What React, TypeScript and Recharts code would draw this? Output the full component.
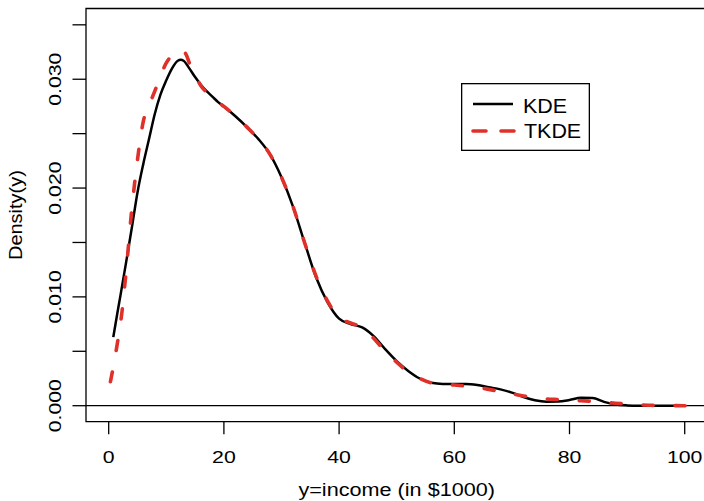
import React from 'react';
import { LineChart, Line, XAxis, YAxis, ReferenceLine, ReferenceArea, Legend } from 'recharts';

const kdeX = [0.8, 1.5, 2, 3, 4, 5, 6, 7, 8, 9, 10, 11, 12, 12.5, 13, 14, 15, 16, 17, 18, 19, 20, 22, 24, 26, 28, 30, 32, 34, 36, 38, 40, 42, 44, 46, 48, 50, 52, 54, 56, 58, 60, 62, 64, 66, 68, 70, 72, 74, 76, 78, 80, 82, 84, 86, 88, 90, 92, 94, 96, 98, 100];
const kdeY = [0.0063, 0.0085, 0.0100, 0.0131, 0.0163, 0.0196, 0.0222, 0.0245, 0.0268, 0.0286, 0.0299, 0.0310, 0.0317, 0.03178, 0.0317, 0.0310, 0.0302, 0.0295, 0.0289, 0.0284, 0.0279, 0.0275, 0.0266, 0.0256, 0.0245, 0.0231, 0.0210, 0.0183, 0.0150, 0.0118, 0.0095, 0.0080, 0.0075, 0.0072, 0.0064, 0.0052, 0.0041, 0.0032, 0.0025, 0.0021, 0.0020, 0.0020, 0.0020, 0.0019, 0.0017, 0.0015, 0.0012, 0.0008, 0.0005, 0.00037, 0.00038, 0.00052, 0.00072, 0.00070, 0.00035, 0.00012, 0.00003, 0, 0, 0, 0, 0];

const tkdeX = [0.3, 1.4, 2.3, 3, 4, 5, 6, 7, 8, 9, 10, 11, 12, 12.8, 13.5, 14, 15, 16, 17, 18, 19, 20, 22, 24, 26, 28, 30, 32, 34, 36, 38, 40, 42, 44, 46, 48, 50, 52, 54, 56, 58, 60, 62, 64, 66, 68, 70, 72, 74, 76, 78, 80, 82, 84, 86, 88, 90, 92, 94, 96, 98, 100, 101];
const tkdeY = [0.0022, 0.0054, 0.0086, 0.0122, 0.0180, 0.0226, 0.0261, 0.0276, 0.0289, 0.0303, 0.0315, 0.0322, 0.0326, 0.0327, 0.0322, 0.0315, 0.0304, 0.0294, 0.0288, 0.0283, 0.0279, 0.0275, 0.0266, 0.0256, 0.0245, 0.0231, 0.0210, 0.0183, 0.0150, 0.0119, 0.0096, 0.0081, 0.0076, 0.0072, 0.0062, 0.0050, 0.0040, 0.0031, 0.0025, 0.0021, 0.0020, 0.0019, 0.0018, 0.0017, 0.0015, 0.0013, 0.0011, 0.0009, 0.0007, 0.00062, 0.00057, 0.00052, 0.00046, 0.00040, 0.00030, 0.00023, 0.00015, 0.00008, 0.00004, 0.00002, 0.00001, 0, 0];

const xTicks = [0, 20, 40, 60, 80, 100];
const yTicks = [0, 0.005, 0.01, 0.015, 0.02, 0.025, 0.03, 0.035];
const yLabeled = [0, 0.01, 0.02, 0.03];
const seriesNames = ['KDE', 'TKDE'];
const xTitle = 'y=income (in $1000)';
const yTitle = 'Density(y)';

const kdeData = kdeX.map((x, i) => ({ x, y: kdeY[i] }));
const tkdeData = tkdeX.map((x, i) => ({ x, y: tkdeY[i] }));

const X_DOMAIN: [number, number] = [-3.94, 103.94];
const Y_DOMAIN: [number, number] = [-0.00147, 0.0365];
const FONT = '"Liberation Sans", Arial, Helvetica, sans-serif';
const RED = '#E0302A';

const XTick = (props: any) => {
  const { x, y, payload } = props;
  return (
    <text transform={`translate(${x}, ${y + 28.5}) scale(1.25, 1)`} x={0} y={0} textAnchor="middle" fontSize={17} fontFamily={FONT} fill="#000">
      {payload.value}
    </text>
  );
};

const YTick = (props: any) => {
  const { y, payload } = props;
  const v = payload.value;
  const show = yLabeled.some((t) => Math.abs(t - v) < 1e-9);
  if (!show) return null;
  const bx = 60.7;
  return (
    <text transform={`translate(${bx}, ${y}) rotate(-90) scale(1.25, 1)`} x={0} y={0} textAnchor="middle" fontSize={17} fontFamily={FONT} fill="#000">
      {v.toFixed(3)}
    </text>
  );
};

const XTitle = (props: any) => {
  const vb = props.viewBox || {};
  const cx = (vb.x ?? 86) + (vb.width ?? 621.4) / 2;
  return (
    <text transform={`translate(${cx}, 496) scale(1.17, 1)`} x={0} y={0} textAnchor="middle" fontSize={18.5} fontFamily={FONT} fill="#000">
      {xTitle}
    </text>
  );
};

const YTitle = (props: any) => {
  const vb = props.viewBox || {};
  const cy = (vb.y ?? 8.5) + (vb.height ?? 413.2) / 2;
  const bx = 21.5;
  return (
    <text transform={`translate(${bx}, ${cy}) rotate(-90) scale(1.08, 1)`} x={0} y={0} textAnchor="middle" fontSize={18.5} fontFamily={FONT} fill="#000">
      {yTitle}
    </text>
  );
};

const LegendBox = () => (
  <svg width={130} height={70} style={{ display: 'block' }}>
    <rect x={0.65} y={0.65} width={127.7} height={66.7} fill="#fff" stroke="#000" strokeWidth={1.3} />
    <line x1={12} y1={21} x2={52} y2={21} stroke="#000" strokeWidth={2.4} />
    <line x1={12} y1={48} x2={54} y2={48} stroke={RED} strokeWidth={3.6} strokeDasharray="13 15" strokeLinecap="round" />
    <text transform="translate(62, 29.7) scale(1.1, 1)" fontSize={19.5} fontFamily={FONT} fill="#000">{seriesNames[0]}</text>
    <text transform="translate(63, 54.7) scale(1.1, 1)" fontSize={19.5} fontFamily={FONT} fill="#000">{seriesNames[1]}</text>
  </svg>
);

export default function App() {
  return (
    <div style={{ position: 'absolute', left: 0, top: 0, width: 704, height: 501, overflow: 'hidden', background: '#fff' }}>
      <LineChart width={708} height={501} margin={{ top: 8.5, right: 0.6, bottom: 0, left: 0 }}>
        <XAxis
          dataKey="x"
          type="number"
          domain={X_DOMAIN}
          ticks={xTicks}
          interval={0}
          allowDataOverflow
          axisLine={false}
          tickLine={{ stroke: '#000', strokeWidth: 1.3 }}
          tickSize={12.5}
          tickMargin={0}
          height={79.3}
          tick={<XTick />}
          label={<XTitle />}
        />
        <YAxis
          dataKey="y"
          type="number"
          domain={Y_DOMAIN}
          ticks={yTicks}
          interval={0}
          allowDataOverflow
          axisLine={false}
          tickLine={{ stroke: '#000', strokeWidth: 1.3 }}
          tickSize={13.5}
          tickMargin={0}
          width={86}
          tick={<YTick />}
          label={<YTitle />}
        />
        <ReferenceArea x1={X_DOMAIN[0]} x2={X_DOMAIN[1]} y1={Y_DOMAIN[0]} y2={Y_DOMAIN[1]} fill="none" fillOpacity={0} stroke="#000" strokeWidth={1.3} />
        <ReferenceLine y={0} stroke="#000" strokeWidth={1.3} />
        <Line data={kdeData} dataKey="y" name={seriesNames[0]} type="monotone" stroke="#000" strokeWidth={2.5} dot={false} activeDot={false} isAnimationActive={false} />
        <Line data={tkdeData} dataKey="y" name={seriesNames[1]} type="monotone" stroke={RED} strokeWidth={3.6} strokeDasharray="10 22" strokeLinecap="round" dot={false} activeDot={false} isAnimationActive={false} />
        <Legend
          layout="vertical"
          align="center"
          verticalAlign="middle"
          wrapperStyle={{ position: 'absolute', left: 461, top: 83, width: 130, height: 70 }}
          content={() => <LegendBox />}
        />
      </LineChart>
    </div>
  );
}
